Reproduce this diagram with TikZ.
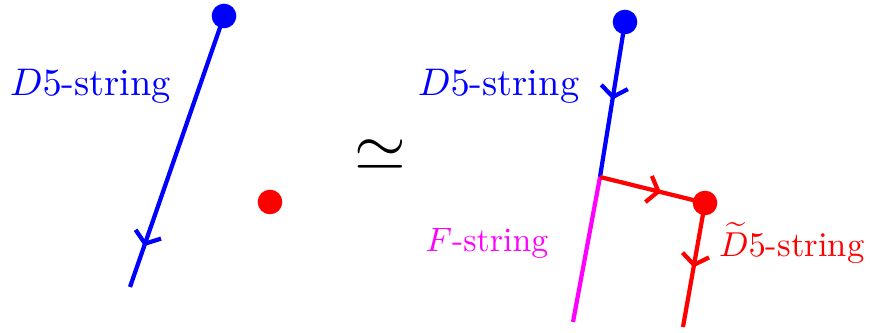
\documentclass[tikz,border=0pt]{standalone}
\usepackage{amsmath,amssymb}
\usetikzlibrary{arrows.meta,decorations.markings}

\definecolor{fmag}{RGB}{255,0,255}
\tikzset{
  brane/.style={line width=1.1pt},
  blob/.style={circle,fill,inner sep=0pt,minimum size=6.4pt},
  lbl/.style={inner sep=0pt},
  midarrow/.style={postaction={decorate},decoration={markings,
      mark=at position #1 with {\arrow{Straight Barb[length=2.6pt,width=7pt,line width=1.1pt]}}}}
}

\begin{document}
\begin{tikzpicture}[x=0.26pt,y=-0.26pt]
		\useasboundingbox (0,0) rectangle (870,333);
		% left: D5-string ending on a D5, red point aside
		\node[blob,blue] (dl) at (224,16) {};
		\coordinate (el) at (130,287);
		\draw[brane,blue,midarrow=0.85] (dl.center) -- (el);
		\node[blob,red] (pl) at (270,202) {};
		\node[lbl,blue,anchor=west] (ll) at (9,86) {$D5$-string};
		% equivalence
		\node (eq) at (380,155) {\fontsize{19}{20}\selectfont $\simeq$};
		% right: after crossing
		\node[blob,blue] (dr) at (625,22) {};
		\coordinate (j) at (600,177);
		\coordinate (fe) at (573,322);
		\node[blob,red] (pr) at (705,203) {};
		\coordinate (er) at (683,327);
		\draw[brane,blue,midarrow=0.5] (dr.center) -- (j);
		\draw[brane,fmag] (j) -- (fe);
		\draw[brane,red,midarrow=0.58] (j) -- (pr.center);
		\draw[brane,red,midarrow=0.52] (pr.center) -- (er);
		% labels
		\node[lbl,blue,anchor=east] (lr) at (580,86) {$D5$-string};
		\node[lbl,fmag,anchor=east,scale=0.88] (lf) at (549,243) {$F$-string};
		\node[lbl,red,anchor=east,scale=0.9] (lt) at (865,243) {$\widetilde{D}5$-string};
	\end{tikzpicture}
\end{document}
